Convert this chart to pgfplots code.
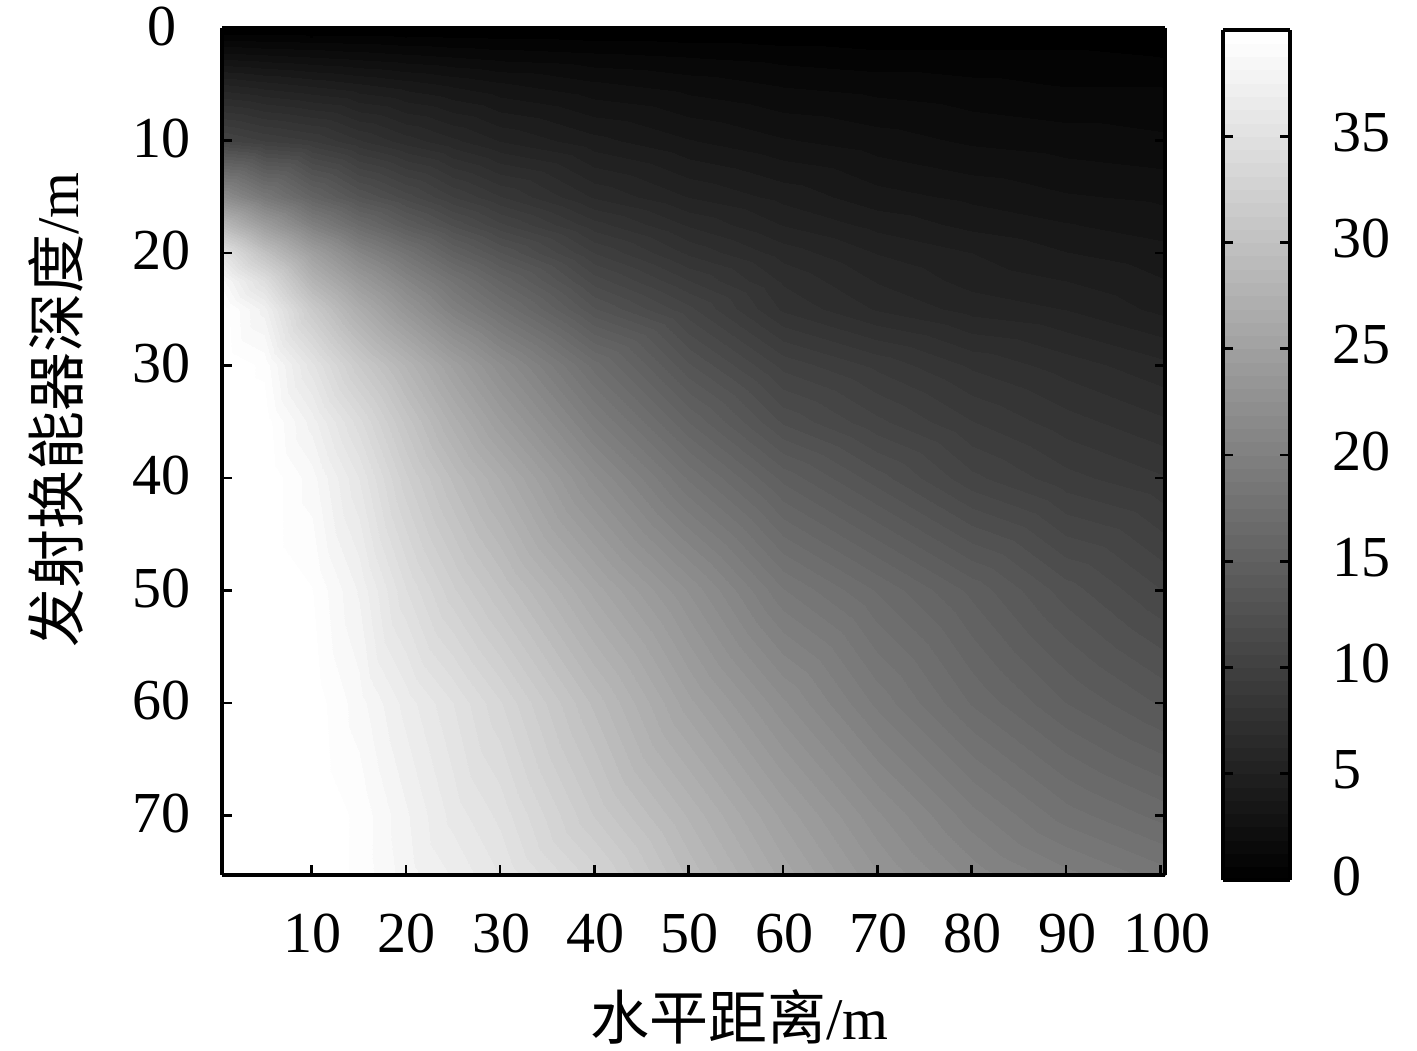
\documentclass[border=0pt]{standalone}
\usepackage{fontspec}
\setmainfont{Liberation Serif}
\newfontfamily\cjk{Noto Sans CJK SC}
\usepackage{pgfplots}
\pgfplotsset{compat=1.18}
\newcommand{\lab}{\fontsize{29}{29}\selectfont}
\newcommand{\cjklab}[1]{\fontsize{29.5}{30}\selectfont{\cjk #1}/m}
\pgfplotsset{colormap={bw}{gray(0cm)=(0); gray(1cm)=(1)}}
\begin{document}
\begin{tikzpicture}
\useasboundingbox (0,0) rectangle (708.5pt,525pt);
\begin{axis}[
    at={(111pt,87.5pt)}, anchor=south west,
    scale only axis, width=471.5pt, height=423.5pt,
    xmin=0.5, xmax=100.5, ymin=0, ymax=75.3,
    y dir=reverse, view={0}{90},
    axis on top, axis line style={line width=1.6pt},
    xtick={10,20,...,100}, ytick={0,10,...,70},
    xticklabels={10,20,30,40,50,60,70,80,90,\hspace*{6pt}100},
    yticklabels={0\hspace*{7pt},10,20,30,40,50,60,70},
    tick align=inside, major tick length=5pt,
    every tick/.style={line width=1.3pt, black},
    tick label style={font=\lab},
    xticklabel style={yshift=-16pt, xshift=0.5pt},
    yticklabel style={xshift=-12pt, yshift=1pt},
    xlabel={\cjklab{水平距离}}, ylabel={\cjklab{发射换能器深度}},
    xlabel style={at={(rel axis cs:0.549,-0.168)}, anchor=center},
    ylabel style={at={(rel axis cs:-0.176,0.549)}, anchor=center},
    colormap={bw64}{samples of colormap=(64 of bw)},
    point meta min=0, point meta max=40,
    colorbar sampled,
    colorbar style={
        samples=65,
        at={(1.0615,-0.0059)}, anchor=south west,
        width=33.5pt, height=425pt,
        axis line style={line width=1.6pt},
        ytick={0,5,...,35},
        tick align=inside, major tick length=5pt,
        ytick pos=both, yticklabel pos=right,
        /pgf/number format/assume math mode=true,
        tick label style={font=\lab},
        yticklabel style={xshift=17.5pt, yshift=2pt},
    },
]
\addplot3[surf, shader=interp, colormap access=piecewise constant] coordinates {
(0.5,0,0) (5,0,0) (10,0,0) (15,0,0) (20,0,0) (25,0,0) (30,0,0) (40,0,0) (50,0,0) (60,0,0) (70,0,0) (80,0,0) (90,0,0) (100.5,0,0)

(0.5,2.5,2.8) (5,2.5,2.6) (10,2.5,2.4) (15,2.5,2.2) (20,2.5,2) (25,2.5,1.8) (30,2.5,1.6) (40,2.5,1.4) (50,2.5,1.2) (60,2.5,1) (70,2.5,0.8) (80,2.5,0.8) (90,2.5,0.8) (100.5,2.5,0.6)

(0.5,5,5.6) (5,5,5.2) (10,5,4.8) (15,5,4.4) (20,5,4) (25,5,3.6) (30,5,3.2) (40,5,2.6) (50,5,2.2) (60,5,1.8) (70,5,1.6) (80,5,1.4) (90,5,1.2) (100.5,5,1.2)

(0.5,10,10.8) (5,10,10) (10,10,9.4) (15,10,8.2) (20,10,7.2) (25,10,6.4) (30,10,5.6) (40,10,4.6) (50,10,3.8) (60,10,3.2) (70,10,2.8) (80,10,2.4) (90,10,2.2) (100.5,10,2)

(0.5,15,22) (5,15,18.8) (10,15,15.6) (15,15,13.2) (20,15,11.6) (25,15,10) (30,15,8.8) (40,15,6.8) (50,15,5.6) (60,15,4.8) (70,15,4) (80,15,3.6) (90,15,3.2) (100.5,15,3)

(0.5,17.5,28.8) (5,17.5,24.4) (10,17.5,20) (15,17.5,16.8) (20,17.5,14.4) (25,17.5,12.4) (30,17.5,10.8) (40,17.5,8.4) (50,17.5,6.8) (60,17.5,5.6) (70,17.5,4.8) (80,17.5,4.2) (90,17.5,3.8) (100.5,17.5,3.4)

(0.5,20,35.2) (5,20,30) (10,20,24.8) (15,20,20.8) (20,20,18) (25,20,15.2) (30,20,13.2) (40,20,10) (50,20,8) (60,20,6.6) (70,20,5.6) (80,20,5) (90,20,4.4) (100.5,20,4)

(0.5,22.5,38.4) (5,22.5,34.4) (10,22.5,28) (15,22.5,24) (20,22.5,20.8) (25,22.5,18) (30,22.5,15.6) (40,22.5,11.6) (50,22.5,9.4) (60,22.5,7.4) (70,22.5,6.2) (80,22.5,5.4) (90,22.5,5) (100.5,22.5,4.4)

(0.5,25,39.8) (5,25,37.2) (10,25,31.2) (15,25,26.8) (20,25,23.2) (25,25,20) (30,25,17.6) (40,25,13.2) (50,25,10.8) (60,25,8) (70,25,6.8) (80,25,6) (90,25,5.6) (100.5,25,4.8)

(0.5,30,40) (5,30,39.2) (10,30,35.2) (15,30,31.2) (20,30,28) (25,30,24.8) (30,30,22) (40,30,17.2) (50,30,13.2) (60,30,10.4) (70,30,9.2) (80,30,8) (90,30,7.2) (100.5,30,6.4)

(0.5,35,40) (5,35,39.8) (10,35,37.2) (15,35,34) (20,35,30.4) (25,35,27.2) (30,35,24.4) (40,35,19.6) (50,35,15.6) (60,35,12.4) (70,35,10.8) (80,35,9.4) (90,35,8.4) (100.5,35,7.6)

(0.5,40,40) (5,40,40) (10,40,38.4) (15,40,35.6) (20,40,32) (25,40,29.2) (30,40,26.8) (40,40,22) (50,40,18) (60,40,14.8) (70,40,12.8) (80,40,10.8) (90,40,9.6) (100.5,40,8.8)

(0.5,50,40) (5,50,40) (10,50,39.4) (15,50,37.4) (20,50,34.4) (25,50,32) (30,50,30) (40,50,26) (50,50,22.4) (60,50,18.8) (70,50,16.8) (80,50,14.8) (90,50,12.8) (100.5,50,11.2)

(0.5,60,40) (5,60,40) (10,60,39.8) (15,60,38.4) (20,60,36.6) (25,60,35) (30,60,33.2) (40,60,29.2) (50,60,25.2) (60,60,22) (70,60,19.2) (80,60,16.8) (90,60,15) (100.5,60,13.6)

(0.5,70,40) (5,70,40) (10,70,40) (15,70,39.2) (20,70,37.6) (25,70,36) (30,70,34.8) (40,70,31.2) (50,70,28) (60,70,24.8) (70,70,22) (80,70,19.6) (90,70,17.8) (100.5,70,16.6)

(0.5,75.3,40) (5,75.3,40) (10,75.3,40) (15,75.3,39.2) (20,75.3,37.8) (25,75.3,36.8) (30,75.3,35.6) (40,75.3,32.8) (50,75.3,29.2) (60,75.3,26) (70,75.3,23.2) (80,75.3,21) (90,75.3,19.6) (100.5,75.3,18.4)
};
\end{axis}
\end{tikzpicture}
\end{document}
